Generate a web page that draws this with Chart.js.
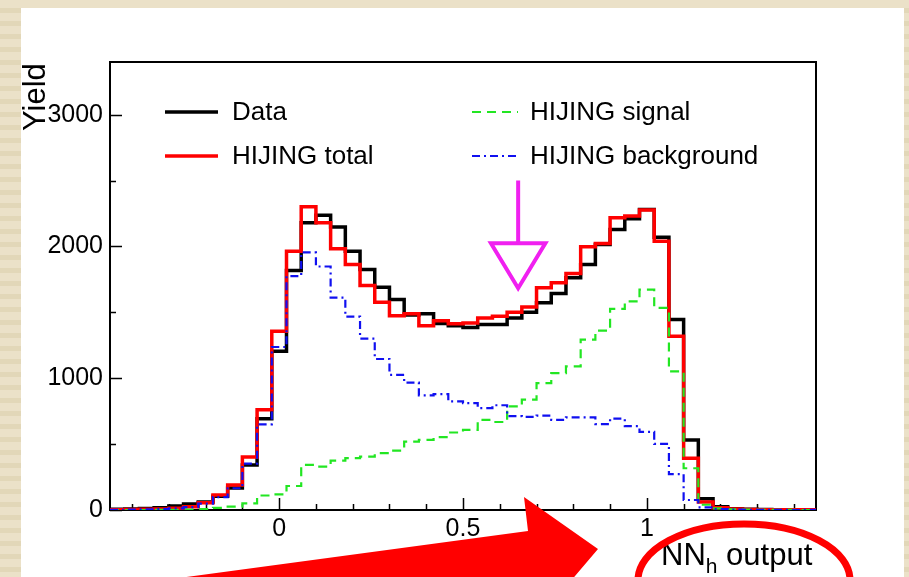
<!DOCTYPE html>
<html>
<head>
<meta charset="utf-8">
<title>NN_h output</title>
<script src="https://cdn.jsdelivr.net/npm/chart.js@4.4.1/dist/chart.umd.min.js"></script>
<style>
  html, body { margin: 0; padding: 0; }
  body {
    width: 909px; height: 577px; overflow: hidden; position: relative;
    background: repeating-linear-gradient(to bottom, #ebe1c8 0px, #ebe1c8 8px, #e2d7b8 8px, #e2d7b8 13px);
  }
  #panel { position: absolute; left: 21px; top: 8px; width: 883px; height: 569px; background: #fff; }
  #plot { position: absolute; left: 0; top: 0; }
</style>
</head>
<body>
<div id="panel"></div>
<canvas id="plot" width="909" height="577"></canvas>
<script>
// 48 bins of width 0.04 between -0.46 and 1.46
const binLow = -0.46;
const binWidth = 0.04;

const dataYield = [
  5, 8, 12, 18, 30, 45, 60, 105, 167, 342, 692, 1204,
  1817, 2180, 2236, 2147, 1964, 1825, 1690, 1597, 1480, 1490, 1416, 1399,
  1385, 1407, 1407, 1458, 1500, 1572, 1643, 1762, 1863, 2015, 2129, 2211,
  2281, 2070, 1445, 532, 85, 25, 10, 5, 3, 2, 2, 1
];
const hijingTotal = [
  2, 3, 5, 8, 14, 25, 55, 114, 190, 403, 760, 1356,
  1964, 2302, 2180, 1982, 1863, 1703, 1577, 1475, 1490, 1399, 1437, 1414,
  1420, 1458, 1470, 1500, 1541, 1686, 1724, 1795, 1998, 2023, 2218, 2231,
  2276, 2040, 1318, 393, 60, 18, 8, 4, 2, 2, 1, 1
];
const hijingSignal = [
  0, 0, 0, 1, 2, 3, 6, 16, 25, 51, 110, 118,
  182, 342, 329, 375, 393, 405, 431, 451, 519, 532, 553, 588,
  608, 684, 668, 786, 837, 963, 1039, 1090, 1293, 1361, 1526, 1584,
  1673, 1534, 1052, 317, 40, 12, 5, 3, 1, 1, 1, 0
];
const hijingBackground = [
  2, 3, 5, 7, 12, 22, 49, 98, 165, 352, 650, 1237,
  1775, 1955, 1848, 1612, 1467, 1300, 1146, 1025, 967, 870, 880, 825,
  811, 773, 795, 712, 706, 716, 684, 703, 703, 652, 694, 637,
  593, 502, 272, 76, 20, 6, 3, 1, 1, 1, 0, 1
];

const xTickValues = [0, 0.5, 1];
const yTickValues = [0, 1000, 2000, 3000];
const xMinorStep = 0.1;
const yMinorStep = 500;

// arrow marking the cut value, in axis units
const cutArrow = { x: 0.65, top: 2500, base: 2025, tip: 1683, halfWidth: 0.074 };

const FONT = '"Liberation Sans", Arial, Helvetica, sans-serif';

function toSteps(values) {
  const pts = values.map((v, i) => ({ x: binLow + i * binWidth, y: v }));
  pts.push({ x: binLow + values.length * binWidth, y: values[values.length - 1] });
  return pts;
}

function histSet(label, values, color, width, dash, order) {
  return {
    label,
    data: toSteps(values),
    borderColor: color,
    borderWidth: width,
    borderDash: dash,
    stepped: 'before',
    pointRadius: 0,
    fill: false,
    order
  };
}

// frame and inward ticks, ROOT style
const frameTicks = {
  id: 'frameTicks',
  beforeDatasetsDraw(chart) {
    const { ctx, chartArea: a, scales: { x, y } } = chart;
    ctx.save();
    ctx.strokeStyle = '#000';
    ctx.lineWidth = 1.5;
    ctx.beginPath();
    for (let v = Math.ceil(x.min / xMinorStep) * xMinorStep; v <= x.max + 1e-9; v += xMinorStep) {
      const px = Math.round(x.getPixelForValue(v)) + 0.5;
      const major = xTickValues.some(t => Math.abs(t - v) < 1e-6);
      ctx.moveTo(px, a.bottom);
      ctx.lineTo(px, a.bottom - (major ? 12 : 6));
    }
    for (let v = 0; v <= y.max; v += yMinorStep) {
      const py = Math.round(y.getPixelForValue(v)) + 0.5;
      const major = yTickValues.includes(v);
      ctx.moveTo(a.left, py);
      ctx.lineTo(a.left + (major ? 12 : 6), py);
    }
    ctx.stroke();
    ctx.lineWidth = 2;
    ctx.strokeRect(a.left, a.top, a.right - a.left, a.bottom - a.top);
    ctx.restore();
  },
  afterDatasetsDraw(chart) {
    const { ctx, scales: { x, y } } = chart;
    const cx = x.getPixelForValue(cutArrow.x);
    const hw = x.getPixelForValue(cutArrow.x + cutArrow.halfWidth) - cx;
    const yTop = y.getPixelForValue(cutArrow.top);
    const yBase = y.getPixelForValue(cutArrow.base);
    const yTip = y.getPixelForValue(cutArrow.tip);
    ctx.save();
    ctx.strokeStyle = '#f020f0';
    ctx.lineWidth = 4;
    ctx.lineJoin = 'miter';
    ctx.beginPath();
    ctx.moveTo(cx, yTop);
    ctx.lineTo(cx, yBase);
    ctx.moveTo(cx - hw, yBase);
    ctx.lineTo(cx + hw, yBase);
    ctx.lineTo(cx, yTip);
    ctx.closePath();
    ctx.stroke();
    ctx.restore();
  }
};

// legend, axis titles and slide annotations
const overlay = {
  id: 'overlay',
  afterDraw(chart) {
    const { ctx } = chart;
    const sets = chart.data.datasets;
    const entries = [
      { ds: sets[3], x0: 165, x1: 218, tx: 232, y: 112 },
      { ds: sets[2], x0: 165, x1: 218, tx: 232, y: 156 },
      { ds: sets[1], x0: 472, x1: 518, tx: 530, y: 112 },
      { ds: sets[0], x0: 472, x1: 518, tx: 530, y: 156 }
    ];
    ctx.save();
    ctx.font = '26px ' + FONT;
    ctx.fillStyle = '#000';
    ctx.textBaseline = 'middle';
    entries.forEach(e => {
      ctx.strokeStyle = e.ds.borderColor;
      ctx.lineWidth = e.ds.borderWidth;
      ctx.setLineDash(e.ds.borderDash || []);
      ctx.beginPath();
      ctx.moveTo(e.x0, e.y);
      ctx.lineTo(e.x1, e.y);
      ctx.stroke();
      ctx.setLineDash([]);
      ctx.fillText(e.ds.label, e.tx, e.y + 1);
    });

    // axis titles
    ctx.textBaseline = 'alphabetic';
    ctx.font = '31px ' + FONT;
    ctx.save();
    ctx.translate(45, 131);
    ctx.rotate(-Math.PI / 2);
    ctx.fillText('Yield', 0, 0);
    ctx.restore();

    let tx = 661;
    ctx.fillText('NN', tx, 565);
    tx += ctx.measureText('NN').width;
    ctx.font = '21px ' + FONT;
    ctx.fillText('h', tx, 573);
    tx += ctx.measureText('h').width;
    ctx.font = '31px ' + FONT;
    ctx.fillText(' output', tx, 565);

    // big red pointer and circle around the axis title
    ctx.fillStyle = '#ff0000';
    ctx.beginPath();
    [[90, 590], [528, 531], [524, 497], [598, 549], [541, 616], [535, 588], [90, 648]]
      .forEach(([px, py], i) => (i ? ctx.lineTo(px, py) : ctx.moveTo(px, py)));
    ctx.closePath();
    ctx.fill();

    ctx.strokeStyle = '#ff0000';
    ctx.lineWidth = 7;
    ctx.beginPath();
    ctx.ellipse(744, 580, 106, 56, 0, 0, Math.PI * 2);
    ctx.stroke();
    ctx.restore();
  }
};

new Chart(document.getElementById('plot'), {
  type: 'line',
  data: {
    datasets: [
      histSet('HIJING background', hijingBackground, '#1010f0', 2.2, [8, 4, 2, 4], 0),
      histSet('HIJING signal', hijingSignal, '#22e622', 2.2, [9, 6], 1),
      histSet('HIJING total', hijingTotal, '#ff0000', 3.5, [], 2),
      histSet('Data', dataYield, '#000000', 3.5, [], 3)
    ]
  },
  options: {
    responsive: false,
    animation: false,
    devicePixelRatio: 1,
    layout: { padding: { left: 0, top: 62, right: 93, bottom: 0 } },
    plugins: { legend: { display: false }, tooltip: { enabled: false } },
    scales: {
      x: {
        type: 'linear',
        min: binLow,
        max: binLow + 48 * binWidth,
        grid: { display: false, drawTicks: false },
        border: { display: false },
        afterBuildTicks: s => { s.ticks = xTickValues.map(v => ({ value: v })); },
        afterFit: s => { s.height = 67; },
        ticks: { color: '#000', font: { family: FONT, size: 25 }, padding: 4, maxRotation: 0, callback: v => String(v) }
      },
      y: {
        min: 0,
        max: 3400,
        grid: { display: false, drawTicks: false },
        border: { display: false },
        afterBuildTicks: s => { s.ticks = yTickValues.map(v => ({ value: v })); },
        afterFit: s => { s.width = 110; },
        ticks: { color: '#000', font: { family: FONT, size: 25 }, padding: 7, callback: v => String(v) }
      }
    }
  },
  plugins: [frameTicks, overlay]
});
</script>
</body>
</html>
